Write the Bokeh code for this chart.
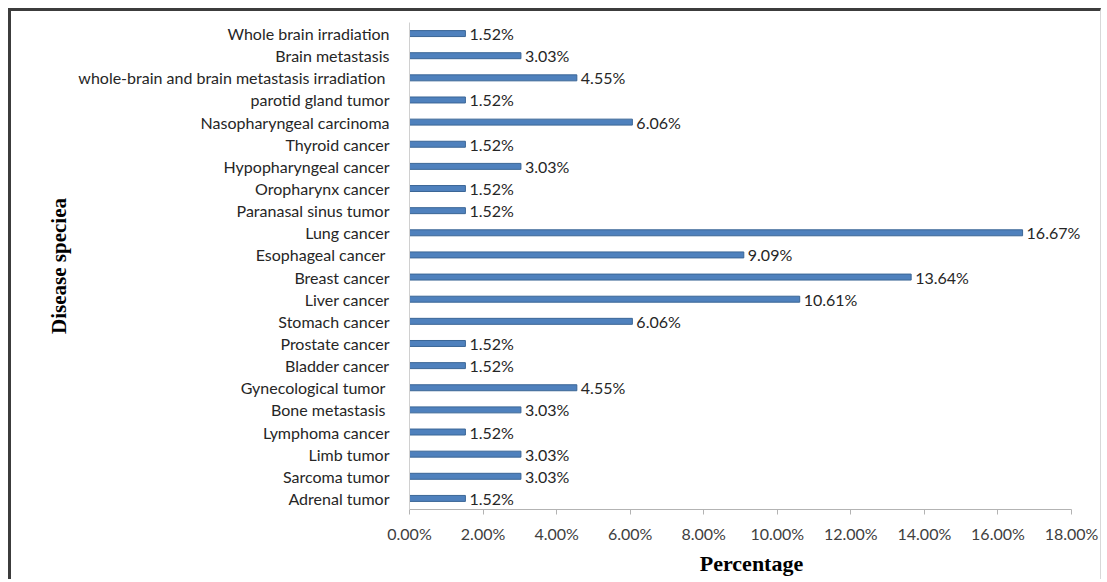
from bokeh.plotting import figure
from bokeh.models import FixedTicker, PrintfTickFormatter, FactorRange, Range1d, ColumnDataSource
from bokeh.core.properties import value
from bokeh.embed import file_html
from bokeh.resources import INLINE

# Disease categories, top to bottom as listed
diseases = [
    "Whole brain irradiation",
    "Brain metastasis",
    "whole-brain and brain metastasis irradiation ",
    "parotid gland tumor",
    "Nasopharyngeal carcinoma",
    "Thyroid cancer",
    "Hypopharyngeal cancer",
    "Oropharynx cancer",
    "Paranasal sinus tumor",
    "Lung cancer",
    "Esophageal cancer ",
    "Breast cancer",
    "Liver cancer",
    "Stomach cancer",
    "Prostate cancer",
    "Bladder cancer",
    "Gynecological tumor ",
    "Bone metastasis ",
    "Lymphoma cancer",
    "Limb tumor",
    "Sarcoma tumor",
    "Adrenal tumor",
]

# Share of cases per disease (%)
percentages = [
    1.52, 3.03, 4.55, 1.52, 6.06, 1.52, 3.03, 1.52, 1.52, 16.67, 9.09,
    13.64, 10.61, 6.06, 1.52, 1.52, 4.55, 3.03, 1.52, 3.03, 3.03, 1.52,
]

x_ticks = [0, 2, 4, 6, 8, 10, 12, 14, 16, 18]

source = ColumnDataSource(dict(
    disease=diseases,
    pct=percentages,
    label=[f"{v:.2f}%" for v in percentages],
))

# The figure sits inside a frame drawn with CSS borders (left/top dark, right faint)
OFF_X, OFF_Y = 11, 11
W, H = 1107 - OFF_X - 3, 582 - OFF_Y
FRAME_L, FRAME_R, FRAME_T, FRAME_B = 409, 1093, 22, 509
X_MAX = 18 * (FRAME_R - FRAME_L) / (1071 - FRAME_L)  # room for end labels past 18%

p = figure(
    width=W, height=H,
    y_range=FactorRange(factors=list(reversed(diseases))),
    x_range=Range1d(0, X_MAX),
    output_backend="svg",
    toolbar_location=None,
    min_border_left=FRAME_L - OFF_X, min_border_right=W - (FRAME_R - OFF_X),
    min_border_top=FRAME_T - OFF_Y, min_border_bottom=H - (FRAME_B - OFF_Y),
    styles={
        "margin-left": "8px",
        "margin-top": "8px",
        "border-left": "3px solid #3c3c3c",
        "border-top": "3px solid #3c3c3c",
        "border-right": "1px solid #d8d8d8",
    },
)
p.outline_line_color = None
p.grid.grid_line_color = None
p.background_fill_color = "white"
p.border_fill_color = "white"

p.hbar(y="disease", right="pct", left=0, height=0.27, source=source,
       fill_color="#4f81bd", line_color="#3b6696", line_width=1)

p.text(x="pct", y="disease", text="label", source=source,
       x_offset=4, text_baseline="middle", text_align="left",
       text_font=value("Lato"), text_font_size="16px", text_color="#262626")

# Horizontal (value) axis
xa = p.xaxis[0]
xa.bounds = (0, 18)
xa.ticker = FixedTicker(ticks=x_ticks)
xa.formatter = PrintfTickFormatter(format="%.2f%%")
xa.axis_line_color = "#b3b3b3"
xa.major_tick_line_color = "#b3b3b3"
xa.major_tick_in = 0
xa.major_tick_out = 5
xa.minor_tick_line_color = None
xa.major_label_text_font = "Lato"
xa.major_label_text_font_size = "16px"
xa.major_label_text_color = "#404040"
xa.major_label_standoff = 9
xa.axis_label = "Percentage"
xa.axis_label_text_font = "Liberation Serif"
xa.axis_label_text_font_style = "bold"
xa.axis_label_text_font_size = "22px"
xa.axis_label_text_color = "#000000"
xa.axis_label_standoff = 5

# Vertical (category) axis
ya = p.yaxis[0]
ya.axis_line_color = "#d0d0d0"
ya.major_tick_line_color = None
ya.minor_tick_line_color = None
ya.major_label_text_font = "Lato"
ya.major_label_text_font_size = "16px"
ya.major_label_text_color = "#262626"
ya.major_label_standoff = 14
ya.axis_label = "Disease speciea"
ya.axis_label_text_font = "Liberation Serif"
ya.axis_label_text_font_style = "bold"
ya.axis_label_text_font_size = "21px"
ya.axis_label_text_color = "#000000"
ya.axis_label_standoff = 4

open("out.html", "w").write(file_html(p, INLINE))
